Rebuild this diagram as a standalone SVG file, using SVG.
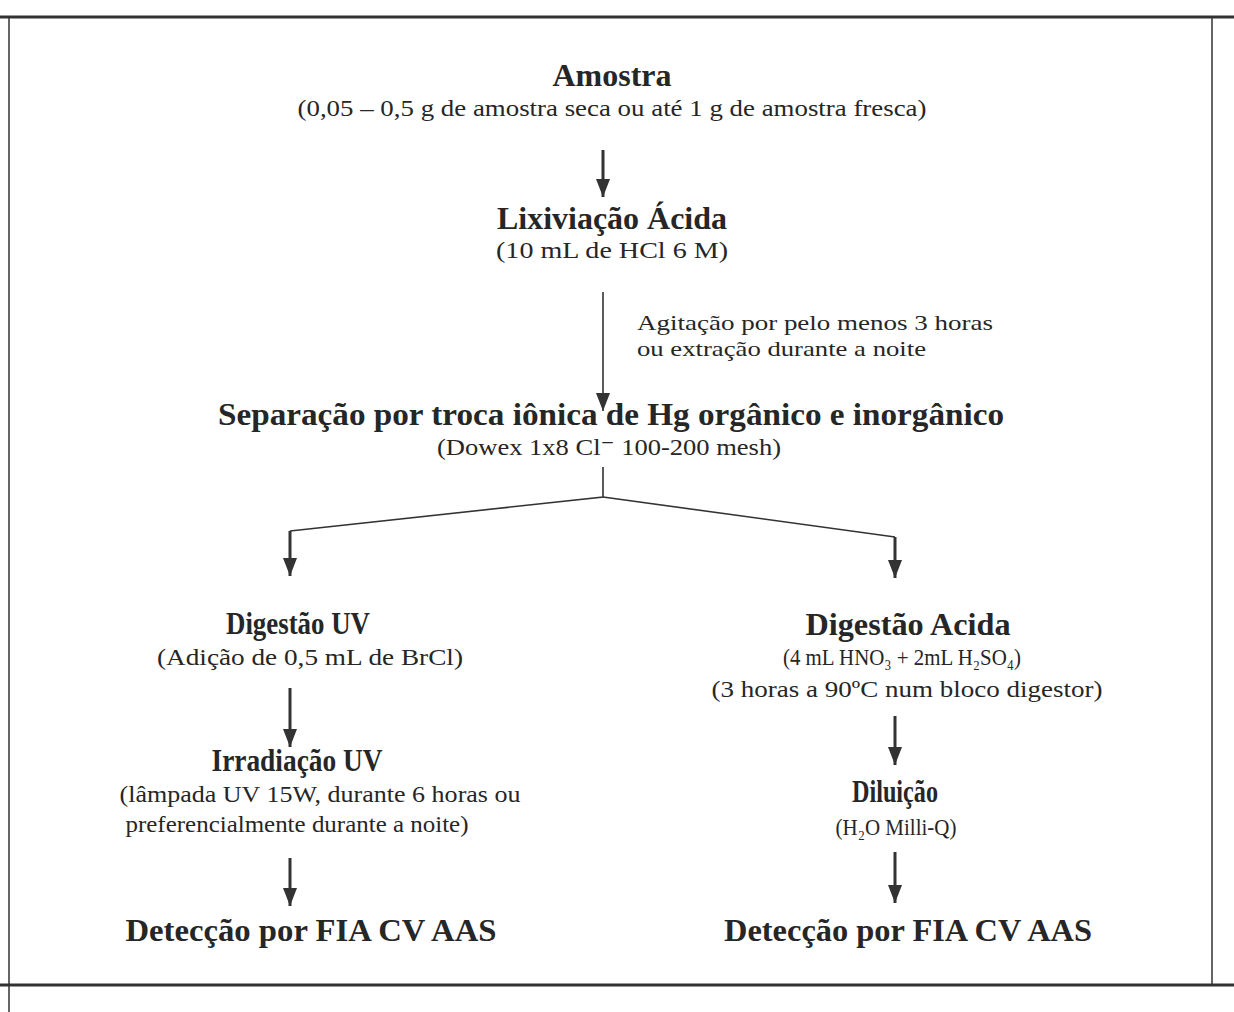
<svg xmlns="http://www.w3.org/2000/svg" width="1234" height="1012" viewBox="0 0 1234 1012">
<defs>
<style>
text{font-family:"Liberation Serif","Times New Roman","DejaVu Serif",serif;fill:#262626;text-anchor:middle}
.t{font-size:32px;font-weight:bold}
.s{font-size:23px}
.n{font-size:21px;text-anchor:start}
.thin{stroke:#333;stroke-width:1.6;fill:none}
.thick{stroke:#333;stroke-width:3;fill:none}
.frame{stroke:#333;fill:none}
</style>
<marker id="ah" viewBox="0 0 10 10" refX="10" refY="5" markerWidth="18" markerHeight="14" markerUnits="userSpaceOnUse" orient="auto" preserveAspectRatio="none">
<path d="M0,0 L10,5 L0,10 Z" fill="#333"/>
</marker>
</defs>
<rect width="1234" height="1012" fill="#fff"/>
<g id="frame">
<line class="frame" x1="0" y1="17" x2="1234" y2="17" stroke-width="3"/>
<line class="frame" x1="0" y1="985" x2="1234" y2="985" stroke-width="3"/>
<line class="frame" x1="9" y1="17" x2="9" y2="1012" stroke-width="1.5"/>
<line class="frame" x1="1212" y1="17" x2="1212" y2="985" stroke-width="1.5"/>
</g>
<g id="connectors">
<line class="thick" x1="603" y1="150" x2="603" y2="197" marker-end="url(#ah)"/>
<line class="thin" x1="603" y1="292" x2="603" y2="411" marker-end="url(#ah)"/>
<polyline class="thin" points="603,467 603,497 290,531"/>
<polyline class="thin" points="603,497 895,537"/>
<line class="thick" x1="290" y1="531" x2="290" y2="576" marker-end="url(#ah)"/>
<line class="thick" x1="895" y1="537" x2="895" y2="578" marker-end="url(#ah)"/>
<line class="thick" x1="290" y1="688" x2="290" y2="747" marker-end="url(#ah)"/>
<line class="thick" x1="290" y1="858" x2="290" y2="906" marker-end="url(#ah)"/>
<line class="thick" x1="895" y1="716" x2="895" y2="765" marker-end="url(#ah)"/>
<line class="thick" x1="895" y1="852" x2="895" y2="903" marker-end="url(#ah)"/>
</g>
<g id="amostra">
<text class="t" x="612" y="86" textLength="119" lengthAdjust="spacingAndGlyphs">Amostra</text>
<text class="s" x="612" y="116" textLength="629" lengthAdjust="spacingAndGlyphs">(0,05 – 0,5 g de amostra seca ou até 1 g de amostra fresca)</text>
</g>
<g id="lixiviacao">
<text class="t" x="612" y="229" textLength="230" lengthAdjust="spacingAndGlyphs">Lixiviação Ácida</text>
<text class="s" x="612" y="258" textLength="232" lengthAdjust="spacingAndGlyphs">(10 mL de HCl  6 M)</text>
</g>
<g id="agitacao">
<text class="n" x="637" y="330" textLength="356" lengthAdjust="spacingAndGlyphs">Agitação por pelo menos 3 horas</text>
<text class="n" x="637" y="356" textLength="289" lengthAdjust="spacingAndGlyphs">ou extração durante a noite</text>
</g>
<g id="separacao">
<text class="t" x="611" y="425" textLength="786" lengthAdjust="spacingAndGlyphs">Separação por troca iônica de Hg  orgânico e  inorgânico</text>
<text class="s" x="609" y="455" textLength="344" lengthAdjust="spacingAndGlyphs">(Dowex 1x8 Cl⁻ 100-200 mesh)</text>
</g>
<g id="digestao-uv">
<text class="t" x="298" y="634" textLength="144" lengthAdjust="spacingAndGlyphs">Digestão UV</text>
<text class="s" x="310" y="665" textLength="306" lengthAdjust="spacingAndGlyphs">(Adição de 0,5 mL de BrCl)</text>
</g>
<g id="irradiacao">
<text class="t" x="297" y="771" textLength="171" lengthAdjust="spacingAndGlyphs">Irradiação UV</text>
<text class="s" x="320" y="802" textLength="401" lengthAdjust="spacingAndGlyphs">(lâmpada UV 15W, durante 6 horas ou</text>
<text class="s" x="297" y="832" textLength="343" lengthAdjust="spacingAndGlyphs">preferencialmente durante a noite)</text>
</g>
<g id="deteccao-1">
<text class="t" x="311" y="941" textLength="371" lengthAdjust="spacingAndGlyphs">Detecção por FIA CV AAS</text>
</g>
<g id="digestao-acida">
<text class="t" x="908" y="635" textLength="205" lengthAdjust="spacingAndGlyphs">Digestão Acida</text>
<text class="s" x="902" y="665" textLength="238" lengthAdjust="spacingAndGlyphs">(4 mL HNO₃ + 2mL H₂SO₄)</text>
<text class="s" x="907" y="697" textLength="391" lengthAdjust="spacingAndGlyphs">(3 horas a 90ºC num bloco digestor)</text>
</g>
<g id="diluicao">
<text class="t" x="895" y="802" textLength="86" lengthAdjust="spacingAndGlyphs">Diluição</text>
<text class="s" x="896" y="835" textLength="121" lengthAdjust="spacingAndGlyphs">(H₂O Milli-Q)</text>
</g>
<g id="deteccao-2">
<text class="t" x="908" y="941" textLength="368" lengthAdjust="spacingAndGlyphs">Detecção por FIA CV AAS</text>
</g>
</svg>
